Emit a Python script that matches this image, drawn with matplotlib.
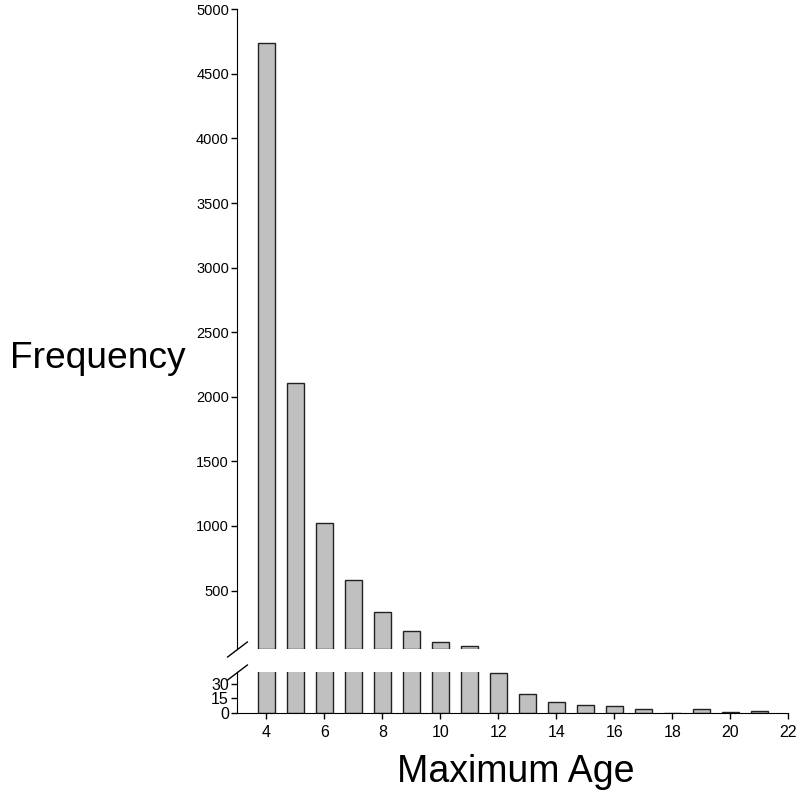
#!/usr/bin/env python3

"""Broken-axis histogram of maximum age frequencies."""

import matplotlib

matplotlib.use("Agg")
from matplotlib import pyplot as plt

plt.rcParams["font.family"] = ["Liberation Sans", "DejaVu Sans"]

# data
max_age = [4, 5, 6, 7, 8, 9, 10, 11, 12, 13, 14, 15, 16, 17, 18, 19, 20, 21]
frequency = [4741, 2108, 1026, 583, 333, 186, 101, 67, 42, 20, 11, 8, 7, 4, 0, 4, 1, 2]

top_ticks = [500, 1000, 1500, 2000, 2500, 3000, 3500, 4000, 4500, 5000]
bottom_ticks = [0, 15, 30]
x_ticks = [4, 6, 8, 10, 12, 14, 16, 18, 20, 22]

TOP_LIM = (50, 5000)
BOTTOM_LIM = (0, 43)
X_LIM = (3, 22)

BAR_COLOR = "#c0c0c0"
EDGE_COLOR = "#222222"


def style_axis(ax):
    ax.spines["top"].set_visible(False)
    ax.spines["right"].set_visible(False)
    ax.tick_params(direction="out", length=4, width=1, color="black")


def main():
    fig = plt.figure(figsize=(7.99, 7.93), dpi=100)
    left, right = 0.297, 0.9866
    ax_top = fig.add_axes([left, 0.182, right - left, 0.9883 - 0.182])
    ax_bot = fig.add_axes([left, 0.1013, right - left, 0.1526 - 0.1013])

    # upper panel: only bars reaching above the floor, drawn from the floor up
    upper = [(a, v) for a, v in zip(max_age, frequency) if v > TOP_LIM[0]]
    ax_top.bar([a for a, _ in upper], [v - TOP_LIM[0] for _, v in upper],
               bottom=TOP_LIM[0], width=0.6, color=BAR_COLOR,
               edgecolor=EDGE_COLOR, linewidth=1)
    ax_top.set_xlim(*X_LIM)
    ax_top.set_ylim(*TOP_LIM)
    ax_top.set_yticks(top_ticks)
    ax_top.set_yticklabels([str(t) for t in top_ticks], fontsize=10.5)
    ax_top.tick_params(axis="y", pad=2)
    ax_top.set_xticks([])
    style_axis(ax_top)
    ax_top.spines["bottom"].set_visible(False)

    # lower panel
    ax_bot.bar(max_age, frequency, width=0.6, color=BAR_COLOR,
               edgecolor=EDGE_COLOR, linewidth=1)
    ax_bot.set_xlim(*X_LIM)
    ax_bot.set_ylim(*BOTTOM_LIM)
    ax_bot.set_yticks(bottom_ticks)
    ax_bot.set_yticklabels([str(t) for t in bottom_ticks], fontsize=11.5)
    ax_bot.set_xticks(x_ticks)
    ax_bot.set_xticklabels([str(t) for t in x_ticks], fontsize=11.5)
    ax_bot.tick_params(axis="y", pad=2)
    ax_bot.tick_params(axis="x", pad=5)
    style_axis(ax_bot)

    # break marks on the y axis
    mark = dict(marker=[(-1, -0.76), (1, 0.76)], markersize=15, linestyle="none",
                color="black", mec="black", mew=1, clip_on=False)
    ax_top.plot([0], [0], transform=ax_top.transAxes, **mark)
    ax_bot.plot([0], [1], transform=ax_bot.transAxes, **mark)

    fig.text(0.0125, 1 - 358 / 793, "Frequency", fontsize=26.7, ha="left", va="center")
    fig.text(516 / 799, 1 - 772 / 793, "Maximum Age", fontsize=27, ha="center", va="center")

    fig.savefig("out.png", dpi=100)
    plt.close(fig)


if __name__ == "__main__":
    main()
